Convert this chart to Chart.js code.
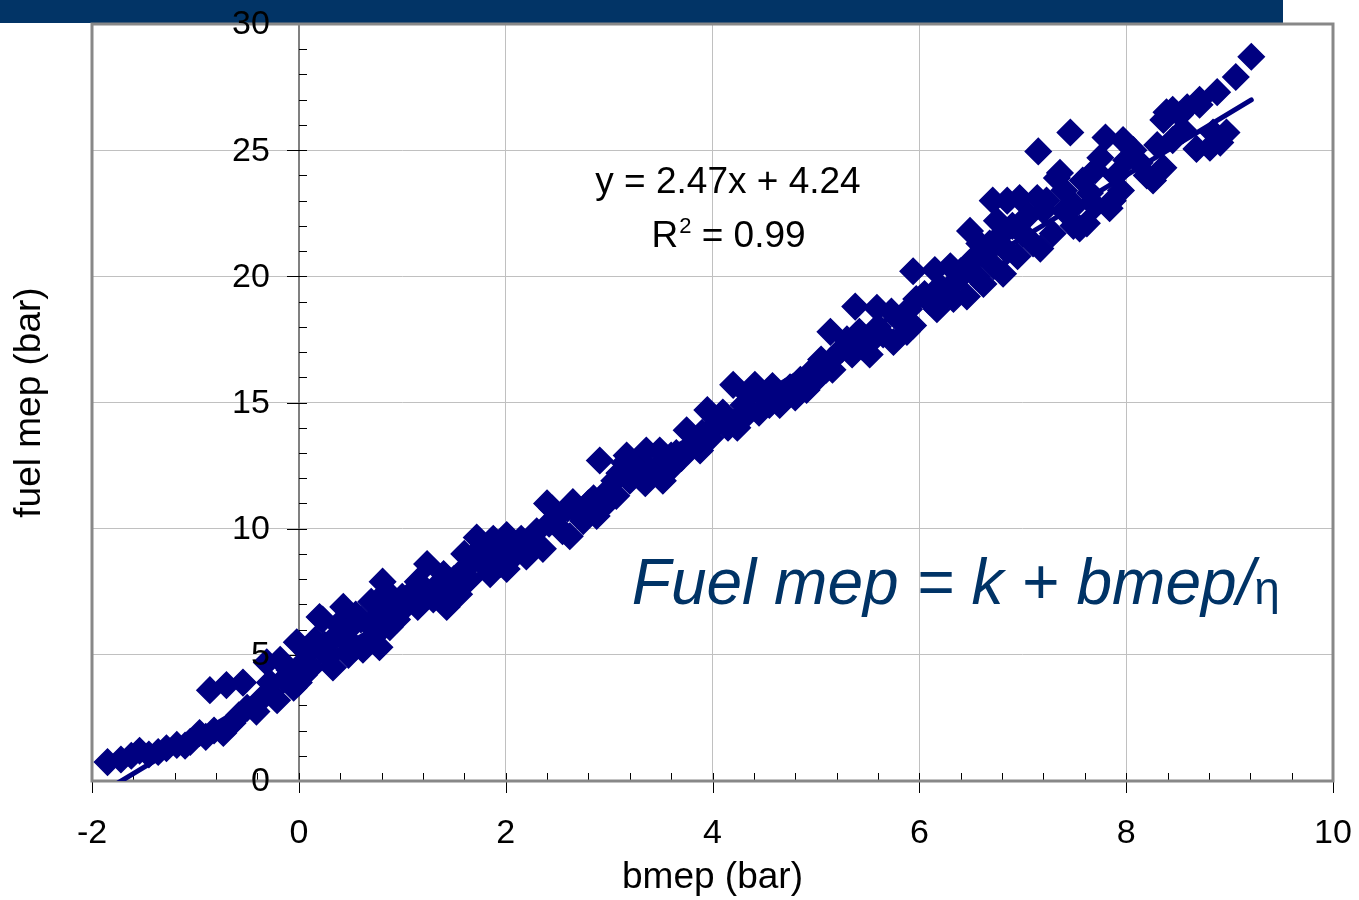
<!DOCTYPE html>
<html>
<head>
<meta charset="utf-8">
<title>fuel mep vs bmep</title>
<script src="https://cdn.jsdelivr.net/npm/chart.js@4.4.1/dist/chart.umd.min.js"></script>
<style>
  html, body { margin: 0; padding: 0; background: #fff; }
  #wrap { position: relative; width: 1359px; height: 900px; }
  #topbar { position: absolute; left: 0; top: 0; width: 1283px; height: 23px; background: #023466; }
  #c { position: absolute; left: 0; top: 0; }
</style>
</head>
<body>
<div id="wrap">
  <div id="topbar"></div>
  <canvas id="c" width="1359" height="900"></canvas>
</div>
<script>
const bmep = [
  -1.85, -1.72, -1.62, -1.54, -1.45, -1.36, -1.28, -1.18, -1.10, -1.05, -0.96, -0.90, -0.82, -0.73, -0.68, -0.64, -0.86, -0.70, -0.54, -0.58, -0.50,
  -0.41, -0.35, -0.31, -0.28, -0.21, -0.18, -0.15, -0.09, -0.05, -0.02, 0.00, 0.02, 0.05, 0.08, 0.12, 0.16, 0.20, 0.23, 0.25, 0.28, 0.33, 0.35, 0.38, 0.43, 0.45, 0.48,
  0.50, 0.55, 0.55, 0.60, 0.62, 0.68, 0.70, 0.72, 0.78, 0.80, 0.81, 0.85, 0.88, 0.90, 0.95, 1.00, 1.00,
  1.05, 1.10, 1.15, 1.15, 1.20, 1.24, 1.30, 1.35, 1.40, 1.43, 1.45, 1.50, 1.55, 1.60, 1.60, 1.65, 1.70, 1.72, 1.78, 1.80, 1.85, 1.88, 1.92, 1.95, 2.01, 2.01,
  2.05, 2.10, 2.15, 2.20, 2.25, 2.30, 2.36, 2.40, 2.42, 2.45, 2.50, 2.55, 2.60, 2.62, 2.65, 2.70, 2.75, 2.80, 2.85, 2.88, 2.91, 2.94, 2.95, 3.00,
  3.05, 3.07, 3.10, 3.15, 3.17, 3.20, 3.25, 3.30, 3.35, 3.36, 3.40, 3.49, 3.52, 3.55, 3.60, 3.60, 3.65, 3.70, 3.75, 3.80, 3.88, 3.90, 3.95, 3.98,
  4.05, 4.10, 4.15, 4.20, 4.24, 4.30, 4.30, 4.35, 4.41, 4.45, 4.50, 4.55, 4.58, 4.60, 4.65, 4.70, 4.75, 4.80, 4.85, 4.91, 4.95, 5.00, 5.00,
  5.05, 5.10, 5.14, 5.16, 5.20, 5.25, 5.30, 5.35, 5.38, 5.42, 5.45, 5.52, 5.55, 5.59, 5.60, 5.65, 5.73, 5.75, 5.80, 5.88, 5.94, 5.90, 5.94, 5.97,
  6.05, 6.10, 6.15, 6.17, 6.20, 6.25, 6.30, 6.33, 6.35, 6.40, 6.46, 6.49, 6.50, 6.55, 6.58, 6.60, 6.62, 6.68, 6.71, 6.72, 6.75, 6.78, 6.81, 6.85, 6.85, 6.90, 6.95, 6.97, 7.00,
  7.05, 7.10, 7.14, 7.15, 7.17, 7.20, 7.23, 7.29, 7.33, 7.36, 7.40, 7.40, 7.46, 7.49, 7.50, 7.55, 7.58, 7.62, 7.65, 7.70, 7.70, 7.75, 7.80, 7.84, 7.87, 7.90, 7.95, 7.97,
  8.00, 8.07, 8.13, 8.20, 8.26, 8.30, 8.36, 8.36, 8.39, 8.45, 8.45, 8.52, 8.55, 8.59, 8.68, 8.71, 8.71, 8.81, 8.84, 8.88, 8.91, 8.97, 9.06, 9.21
];
const fuelMep = [
  0.75, 0.85, 1.00, 1.20, 1.05, 1.15, 1.30, 1.43, 1.40, 1.55, 1.90, 1.75, 2.00, 1.90, 2.15, 2.30, 3.60, 3.80, 3.90, 2.60, 2.90,
  2.75, 3.30, 4.70, 3.90, 3.20, 4.80, 4.00, 4.40, 3.70, 5.50, 3.90, 4.60, 4.20, 5.10, 4.50, 5.60, 6.50, 6.40, 5.40, 4.90, 4.50, 5.70, 6.20, 6.90, 5.60, 5.00,
  6.10, 5.30, 6.60, 6.40, 5.20, 6.20, 7.10, 5.70, 5.30, 6.60, 7.90, 7.50, 6.10, 7.00, 6.40, 7.30, 6.80,
  7.00, 7.50, 6.90, 7.90, 7.40, 8.60, 7.20, 7.80, 8.20, 6.90, 7.60, 8.00, 7.40, 8.40, 9.00, 8.00, 8.80, 9.65, 9.30, 8.50, 8.20, 9.60, 9.00, 8.60, 9.75, 8.40,
  9.40, 9.00, 9.60, 8.90, 9.30, 9.90, 9.20, 11.00, 10.20, 10.80, 10.50, 9.90, 10.80, 9.70, 11.05, 10.60, 10.30, 11.00, 11.20, 10.50, 12.70, 11.30, 10.90, 11.50,
  11.90, 11.30, 12.20, 12.60, 12.90, 11.90, 12.50, 12.10, 11.80, 13.10, 12.30, 13.10, 11.90, 12.70, 12.40, 12.90, 13.00, 12.80, 13.90, 13.30, 13.10, 13.80, 14.70, 13.60,
  14.20, 14.60, 14.00, 15.70, 14.00, 14.90, 14.40, 15.30, 15.70, 14.60, 15.20, 14.90, 15.65, 15.30, 14.90, 15.40, 15.60, 15.20, 15.90, 15.50, 16.20, 16.40, 15.90,
  16.70, 16.30, 17.80, 16.30, 16.90, 17.10, 17.50, 16.90, 18.80, 17.80, 17.20, 16.90, 17.50, 18.75, 18.00, 17.70, 18.60, 17.40, 18.30, 17.80, 20.20, 18.70, 18.05, 19.10,
  19.30, 19.00, 20.25, 18.70, 19.60, 19.20, 20.40, 19.10, 19.80, 20.20, 19.20, 21.80, 20.60, 20.00, 21.30, 20.90, 19.70, 21.30, 23.00, 20.40, 22.20, 21.60, 20.10, 23.00, 21.00, 22.00, 20.80, 23.10, 21.70,
  22.40, 21.30, 23.10, 24.95, 21.10, 22.60, 23.00, 21.70, 23.90, 24.10, 22.60, 23.40, 25.70, 22.00, 22.80, 21.90, 23.80, 22.10, 23.30, 24.20, 22.80, 24.70, 25.50, 22.70, 23.00, 24.00, 23.40, 25.40,
  24.60, 25.00, 24.50, 24.00, 23.80, 25.20, 24.30, 26.20, 26.50, 26.60, 25.40, 26.40, 25.80, 26.70, 25.05, 26.80, 27.00, 25.10, 25.70, 27.30, 25.30, 25.70, 27.90, 28.70
];

// linear trend line end points (y = 2.47x + 4.24, R2 = 0.99)
const trendX = [-1.86, 9.21];
const trendY = [-0.35, 26.99];

const xTickValues = [-2, 0, 2, 4, 6, 8, 10];
const yTickValues = [0, 5, 10, 15, 20, 25, 30];
const xMinorPerMajor = 5;
const yMinorPerMajor = 5;

const FONT = "'Liberation Sans', Arial, Helvetica, sans-serif";
const NAVY = '#000080';

const decor = {
  id: 'decor',
  beforeDatasetsDraw(chart) {
    const { ctx, chartArea: a } = chart;
    const x = chart.scales.x, y = chart.scales.y;
    const x0 = Math.round(x.getPixelForValue(0));
    const y0 = Math.round(y.getPixelForValue(0));
    ctx.save();

    // y axis line at x = 0
    ctx.strokeStyle = '#808080';
    ctx.lineWidth = 2;
    ctx.beginPath();
    ctx.moveTo(x0, a.top);
    ctx.lineTo(x0, a.bottom);
    ctx.stroke();

    // tick marks
    ctx.strokeStyle = '#000';
    ctx.lineWidth = 1;
    ctx.beginPath();
    for (let i = 0; i < yTickValues.length; i++) {
      const v0 = yTickValues[i];
      const n = i < yTickValues.length - 1 ? yMinorPerMajor : 1;
      for (let k = 0; k < n; k++) {
        const v = i < yTickValues.length - 1 ? v0 + (yTickValues[i + 1] - v0) * k / n : v0;
        const py = Math.round(y.getPixelForValue(v)) + 0.5;
        ctx.moveTo(k === 0 ? x0 - 12 : x0, py);
        ctx.lineTo(x0 + 8, py);
      }
    }
    for (let i = 0; i < xTickValues.length; i++) {
      const v0 = xTickValues[i];
      const n = i < xTickValues.length - 1 ? xMinorPerMajor : 1;
      for (let k = 0; k < n; k++) {
        const v = i < xTickValues.length - 1 ? v0 + (xTickValues[i + 1] - v0) * k / n : v0;
        const px = Math.round(x.getPixelForValue(v)) + 0.5;
        ctx.moveTo(px, y0 - 8);
        ctx.lineTo(px, k === 0 ? y0 + 12 : y0);
      }
    }
    ctx.stroke();

    // plot frame
    ctx.strokeStyle = '#888';
    ctx.lineWidth = 3;
    ctx.strokeRect(a.left, a.top, a.right - a.left, a.bottom - a.top);
    ctx.restore();
  },
  afterDraw(chart) {
    const { ctx, chartArea: a } = chart;
    const x = chart.scales.x, y = chart.scales.y;
    const x0 = x.getPixelForValue(0);
    ctx.save();
    ctx.fillStyle = '#000';

    // y tick labels, left of the axis at x = 0, drawn over the markers
    ctx.font = '34px ' + FONT;
    ctx.textAlign = 'right';
    ctx.textBaseline = 'middle';
    yTickValues.forEach(v => ctx.fillText(String(v), x0 - 29, y.getPixelForValue(v) + 1));

    // y axis title
    ctx.save();
    ctx.translate(30, (a.top + a.bottom) / 2);
    ctx.rotate(-Math.PI / 2);
    ctx.font = '37px ' + FONT;
    ctx.textAlign = 'center';
    ctx.textBaseline = 'middle';
    ctx.fillText('fuel mep (bar)', 0, 0);
    ctx.restore();

    // regression label
    ctx.font = '37px ' + FONT;
    ctx.textBaseline = 'alphabetic';
    const ex = x.getPixelForValue(4.15);
    ctx.textAlign = 'center';
    ctx.fillText('y = 2.47x + 4.24', ex, y.getPixelForValue(23.3));
    // R² with a real superscript
    const r = 'R', sup = '2', rest = ' = 0.99';
    const ry = y.getPixelForValue(21.15);
    const wR = ctx.measureText(r).width, wRest = ctx.measureText(rest).width;
    ctx.font = '22px ' + FONT;
    const wSup = ctx.measureText(sup).width;
    let sx = ex - (wR + wSup + wRest) / 2;
    ctx.textAlign = 'left';
    ctx.font = '37px ' + FONT;
    ctx.fillText(r, sx, ry);
    ctx.font = '22px ' + FONT;
    ctx.fillText(sup, sx + wR + 1, ry - 14);
    ctx.font = '37px ' + FONT;
    ctx.fillText(rest, sx + wR + wSup + 1, ry);

    // model label
    ctx.fillStyle = '#003366';
    ctx.textAlign = 'left';
    ctx.font = 'italic 64px ' + FONT;
    const main = 'Fuel mep = k + bmep/';
    const fx = x.getPixelForValue(3.22);
    const fy = y.getPixelForValue(7.0);
    ctx.fillText(main, fx, fy);
    const w = ctx.measureText(main).width;
    ctx.font = '46px ' + FONT;
    ctx.fillText('\u03B7', fx + w, fy);
    ctx.restore();
  }
};

Chart.defaults.font.family = FONT;
Chart.defaults.color = '#000';

new Chart(document.getElementById('c'), {
  data: {
    datasets: [
      {
        type: 'line',
        label: 'Linear trend',
        data: trendX.map((v, i) => ({ x: v, y: trendY[i] })),
        borderColor: NAVY,
        borderWidth: 5,
        borderCapStyle: 'round',
        pointRadius: 0,
        fill: false,
        clip: 0,
        order: 0
      },
      {
        type: 'scatter',
        label: 'fuel mep',
        data: bmep.map((v, i) => ({ x: v, y: fuelMep[i] })),
        pointStyle: 'rectRot',
        pointRadius: 13,
        pointBackgroundColor: NAVY,
        pointBorderColor: NAVY,
        pointBorderWidth: 1.5,
        order: 1
      }
    ]
  },
  options: {
    responsive: false,
    devicePixelRatio: 1,
    animation: false,
    events: [],
    layout: { padding: { left: 92, top: 24, right: 26, bottom: 0 } },
    plugins: { legend: { display: false }, tooltip: { enabled: false } },
    scales: {
      x: {
        type: 'linear',
        min: -2,
        max: 10,
        afterBuildTicks: s => { s.ticks = xTickValues.map(v => ({ value: v })); },
        afterFit: s => { s.height = 119; s.paddingLeft = 0; s.paddingRight = 0; },
        ticks: { font: { size: 34 }, padding: 32, maxRotation: 0, color: '#000' },
        grid: { color: '#c0c0c0', lineWidth: 1, drawTicks: false },
        border: { display: false },
        title: { display: true, text: 'bmep (bar)', font: { size: 37 }, padding: { top: 0, bottom: 0 }, color: '#000' }
      },
      y: {
        type: 'linear',
        min: 0,
        max: 30,
        position: { x: 0 },
        afterBuildTicks: s => { s.ticks = yTickValues.map(v => ({ value: v })); },
        afterFit: s => { s.paddingTop = 0; s.paddingBottom = 0; },
        ticks: { display: false },
        grid: { color: '#c0c0c0', lineWidth: 1, drawTicks: false },
        border: { display: false }
      }
    }
  },
  plugins: [decor]
});
</script>
</body>
</html>
